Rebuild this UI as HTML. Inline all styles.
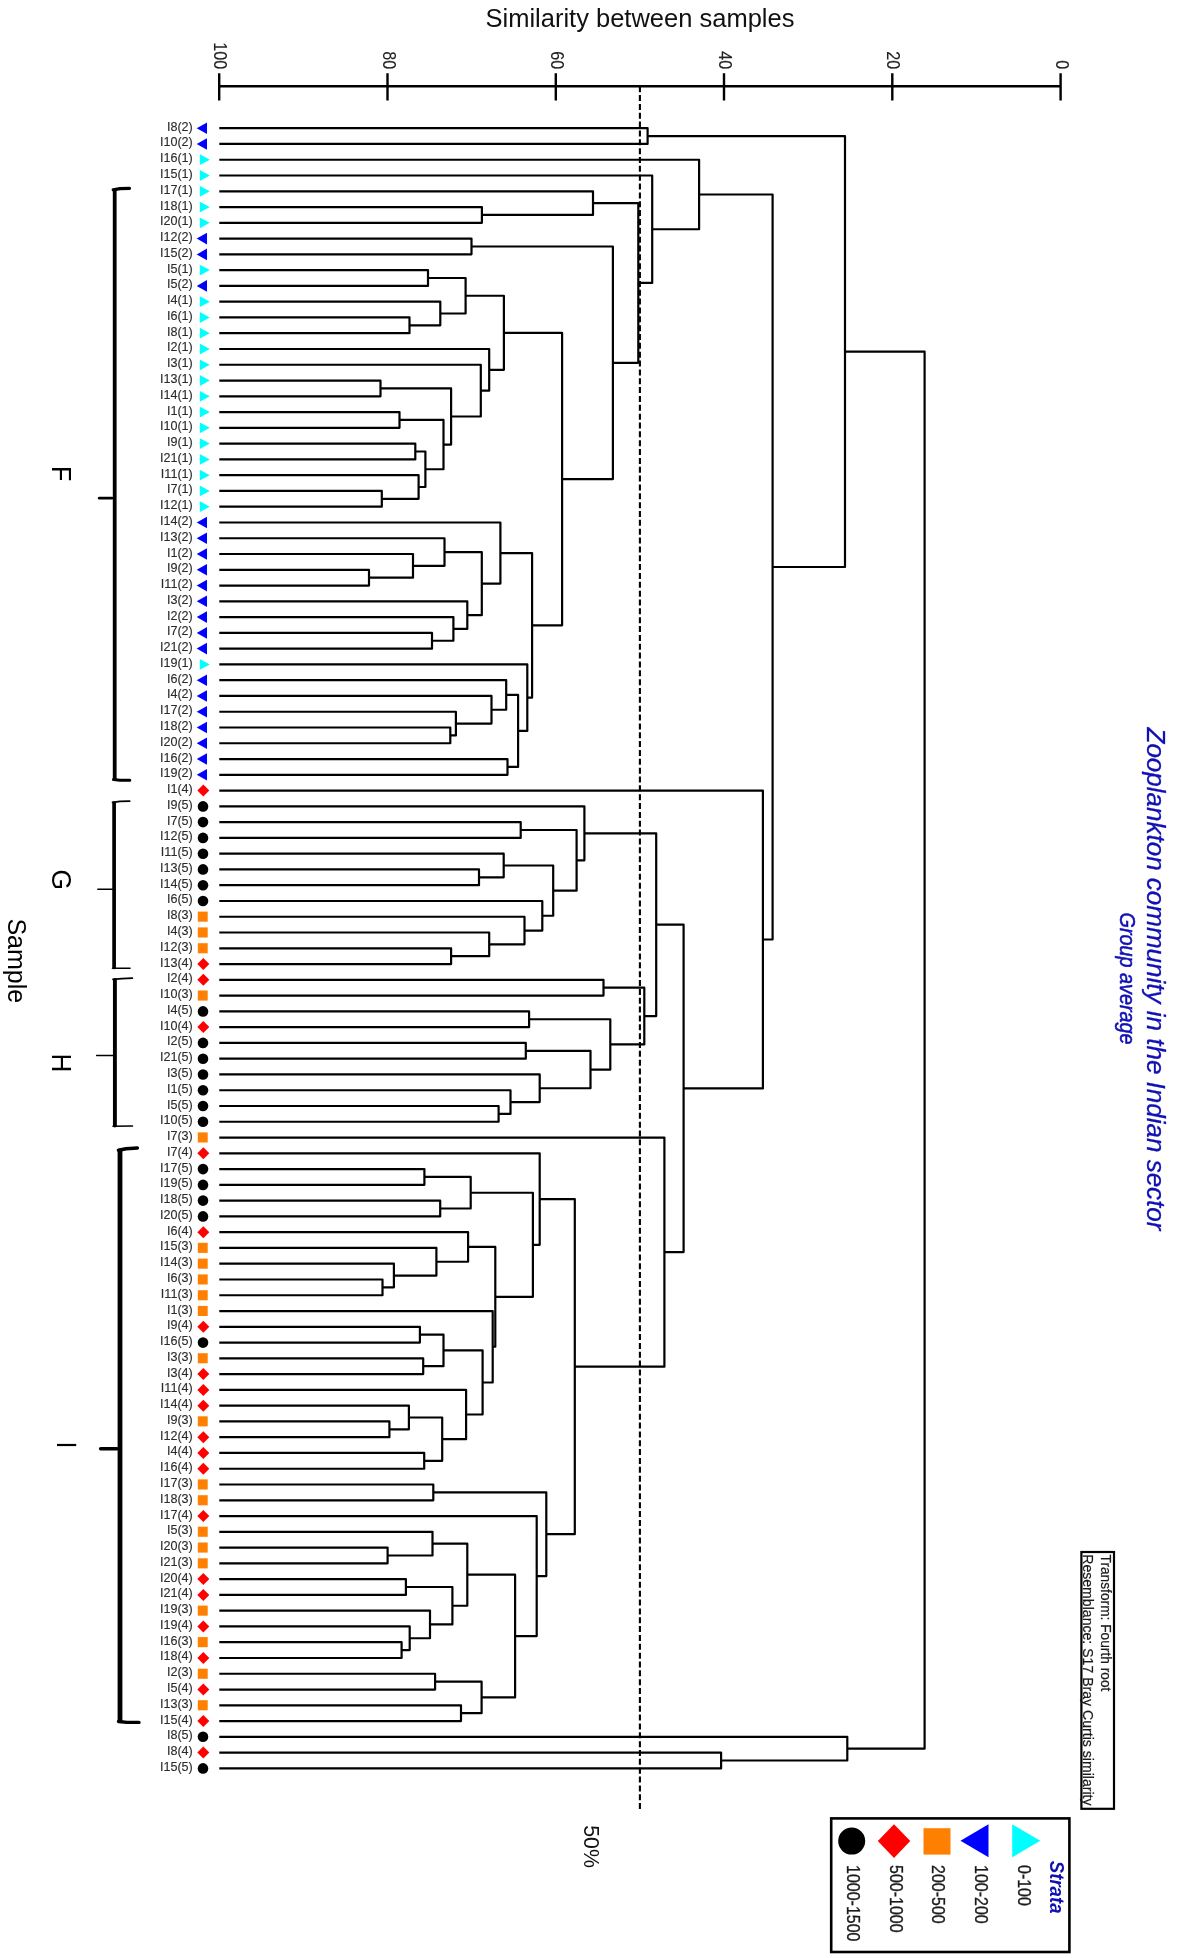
<!DOCTYPE html>
<html><head><meta charset="utf-8"><style>
html,body{margin:0;padding:0;background:#fff;}
body{width:1181px;height:1958px;overflow:hidden;position:relative;}
svg{position:absolute;left:0;top:0;display:block;will-change:transform;}
text{font-family:"Liberation Sans",sans-serif;}
</style></head><body>
<svg width="1181" height="1958" viewBox="0 0 1181 1958">

<text x="485.5" y="27.3" font-size="25.5" fill="#111">Similarity between samples</text>
<path d="M219.2 86.3H1060.6M219.2 73.3V100.4M387.5 73.3V100.4M555.8 73.3V100.4M724.0 73.3V100.4M892.3 73.3V100.4M1060.6 73.3V100.4" stroke="#000" stroke-width="2.4" fill="none"/>
<text transform="translate(214.3,69.2) rotate(90) scale(1,1.13)" font-size="16.2" fill="#222" stroke="#222" stroke-width="0.1" text-anchor="end">100</text>
<text transform="translate(382.6,69.2) rotate(90) scale(1,1.13)" font-size="16.2" fill="#222" stroke="#222" stroke-width="0.1" text-anchor="end">80</text>
<text transform="translate(550.9,69.2) rotate(90) scale(1,1.13)" font-size="16.2" fill="#222" stroke="#222" stroke-width="0.1" text-anchor="end">60</text>
<text transform="translate(719.1,69.2) rotate(90) scale(1,1.13)" font-size="16.2" fill="#222" stroke="#222" stroke-width="0.1" text-anchor="end">40</text>
<text transform="translate(887.4,69.2) rotate(90) scale(1,1.13)" font-size="16.2" fill="#222" stroke="#222" stroke-width="0.1" text-anchor="end">20</text>
<text transform="translate(1055.7,69.2) rotate(90) scale(1,1.13)" font-size="16.2" fill="#222" stroke="#222" stroke-width="0.1" text-anchor="end">0</text>
<path d="M639.9 86.2V1809.2" stroke="#000" stroke-width="2.1" stroke-dasharray="6 2.85" fill="none"/>
<path d="M219.3 128.20H647.6V143.97H219.3M219.3 207.06H481.9V222.83H219.3M219.3 191.28H593.0V214.94H481.9M219.3 238.60H471.5V254.37H219.3M219.3 270.14H428.0V285.91H219.3M219.3 317.45H409.5V333.22H219.3M219.3 301.68H440.3V325.34H409.5M428.0 278.02H465.6V313.51H440.3M219.3 380.54H380.5V396.31H219.3M219.3 412.08H399.5V427.85H219.3M219.3 443.62H415.3V459.39H219.3M219.3 490.93H381.8V506.70H219.3M219.3 475.16H418.6V498.82H381.8M415.3 451.51H425.4V486.99H418.6M399.5 419.96H443.5V469.25H425.4M380.5 388.42H451.1V444.61H443.5M219.3 364.76H480.8V416.51H451.1M219.3 348.99H489.2V390.64H480.8M465.6 295.77H503.9V369.82H489.2M219.3 569.79H369.0V585.56H219.3M219.3 554.02H413.0V577.67H369.0M219.3 538.25H444.5V565.85H413.0M219.3 632.87H432.0V648.64H219.3M219.3 617.10H453.4V640.76H432.0M219.3 601.33H467.3V628.93H453.4M444.5 552.05H481.8V615.13H467.3M219.3 522.48H500.4V583.59H481.8M219.3 727.50H450.3V743.27H219.3M219.3 711.73H455.9V735.38H450.3M219.3 695.96H491.5V723.56H455.9M219.3 680.18H506.2V709.76H491.5M219.3 759.04H507.5V774.81H219.3M506.2 694.97H518.1V766.93H507.5M219.3 664.41H527.3V730.95H518.1M500.4 553.03H532.1V697.68H527.3M503.9 332.79H562.1V625.36H532.1M471.5 246.48H612.9V479.07H562.1M593.0 203.11H638.3V362.78H612.9M219.3 175.51H652.2V282.95H638.3M219.3 159.74H699.1V229.23H652.2M219.3 822.12H520.7V837.89H219.3M219.3 869.44H479.0V885.21H219.3M219.3 853.67H503.7V877.32H479.0M219.3 948.29H451.1V964.06H219.3M219.3 932.52H489.2V956.18H451.1M219.3 916.75H524.5V944.35H489.2M219.3 900.98H542.3V930.55H524.5M503.7 865.49H553.2V915.76H542.3M520.7 830.01H576.6V890.63H553.2M219.3 806.35H584.4V860.32H576.6M219.3 979.83H603.5V995.61H219.3M219.3 1011.38H529.1V1027.15H219.3M219.3 1042.92H525.8V1058.69H219.3M219.3 1106.00H498.6V1121.77H219.3M219.3 1090.23H510.5V1113.89H498.6M219.3 1074.46H539.7V1102.06H510.5M525.8 1050.80H590.5V1088.26H539.7M529.1 1019.26H610.3V1069.53H590.5M603.5 987.72H644.3V1044.40H610.3M584.4 833.34H656.2V1016.06H644.3M219.3 1169.09H424.4V1184.86H219.3M219.3 1200.63H440.2V1216.40H219.3M424.4 1176.97H470.7V1208.51H440.2M219.3 1279.48H382.5V1295.25H219.3M219.3 1263.71H393.9V1287.37H382.5M219.3 1247.94H436.4V1275.54H393.9M219.3 1232.17H468.1V1261.74H436.4M219.3 1326.80H419.9V1342.57H219.3M219.3 1358.34H423.2V1374.11H219.3M419.9 1334.68H443.5V1366.22H423.2M219.3 1421.42H389.4V1437.19H219.3M219.3 1405.65H408.9V1429.31H389.4M219.3 1452.96H424.2V1468.74H219.3M408.9 1417.48H442.2V1460.85H424.2M219.3 1389.88H466.1V1439.16H442.2M443.5 1350.45H482.6V1414.52H466.1M219.3 1311.03H492.7V1382.49H482.6M468.1 1246.96H495.3V1346.76H492.7M470.7 1192.74H532.9V1296.86H495.3M219.3 1153.32H539.7V1244.80H532.9M219.3 1484.51H433.3V1500.28H219.3M219.3 1547.59H387.6V1563.36H219.3M219.3 1531.82H432.5V1555.48H387.6M219.3 1579.13H405.9V1594.90H219.3M219.3 1642.22H401.6V1657.99H219.3M219.3 1626.45H409.7V1650.10H401.6M219.3 1610.67H430.0V1638.27H409.7M405.9 1587.02H452.4V1624.47H430.0M432.5 1543.65H467.3V1605.75H452.4M219.3 1673.76H435.1V1689.53H219.3M219.3 1705.30H461.0V1721.07H219.3M435.1 1681.64H481.6V1713.19H461.0M467.3 1574.70H515.1V1697.41H481.6M219.3 1516.05H536.7V1636.06H515.1M433.3 1492.39H546.3V1576.05H536.7M539.7 1199.06H574.8V1534.22H546.3M219.3 1137.54H664.4V1366.64H574.8M656.2 924.70H683.6V1252.09H664.4M219.3 790.58H762.9V1088.39H683.6M699.1 194.49H772.6V939.49H762.9M647.6 136.09H845.0V566.99H772.6M219.3 1752.61H721.1V1768.38H219.3M219.3 1736.84H847.3V1760.50H721.1M845.0 351.54H924.6V1748.67H847.3" stroke="#000" stroke-width="2.2" fill="none" stroke-linejoin="round"/>
<text transform="translate(192.8,130.70) scale(1,1.05)" font-size="12.6" fill="#2a2a2a" stroke="#2a2a2a" stroke-width="0.12" text-anchor="end">I8(2)</text>
<path d="M207 122.4L196.7 128.2L207 134.0Z" fill="#0000ff"/>
<text transform="translate(192.8,146.47) scale(1,1.05)" font-size="12.6" fill="#2a2a2a" stroke="#2a2a2a" stroke-width="0.12" text-anchor="end">I10(2)</text>
<path d="M207 138.2L196.7 144.0L207 149.8Z" fill="#0000ff"/>
<text transform="translate(192.8,162.24) scale(1,1.05)" font-size="12.6" fill="#2a2a2a" stroke="#2a2a2a" stroke-width="0.12" text-anchor="end">I16(1)</text>
<path d="M199.8 154.3L209.8 159.7L199.8 165.1Z" fill="#00ffff"/>
<text transform="translate(192.8,178.01) scale(1,1.05)" font-size="12.6" fill="#2a2a2a" stroke="#2a2a2a" stroke-width="0.12" text-anchor="end">I15(1)</text>
<path d="M199.8 170.1L209.8 175.5L199.8 180.9Z" fill="#00ffff"/>
<text transform="translate(192.8,193.78) scale(1,1.05)" font-size="12.6" fill="#2a2a2a" stroke="#2a2a2a" stroke-width="0.12" text-anchor="end">I17(1)</text>
<path d="M199.8 185.9L209.8 191.3L199.8 196.7Z" fill="#00ffff"/>
<text transform="translate(192.8,209.56) scale(1,1.05)" font-size="12.6" fill="#2a2a2a" stroke="#2a2a2a" stroke-width="0.12" text-anchor="end">I18(1)</text>
<path d="M199.8 201.7L209.8 207.1L199.8 212.5Z" fill="#00ffff"/>
<text transform="translate(192.8,225.33) scale(1,1.05)" font-size="12.6" fill="#2a2a2a" stroke="#2a2a2a" stroke-width="0.12" text-anchor="end">I20(1)</text>
<path d="M199.8 217.4L209.8 222.8L199.8 228.2Z" fill="#00ffff"/>
<text transform="translate(192.8,241.10) scale(1,1.05)" font-size="12.6" fill="#2a2a2a" stroke="#2a2a2a" stroke-width="0.12" text-anchor="end">I12(2)</text>
<path d="M207 232.8L196.7 238.6L207 244.4Z" fill="#0000ff"/>
<text transform="translate(192.8,256.87) scale(1,1.05)" font-size="12.6" fill="#2a2a2a" stroke="#2a2a2a" stroke-width="0.12" text-anchor="end">I15(2)</text>
<path d="M207 248.6L196.7 254.4L207 260.2Z" fill="#0000ff"/>
<text transform="translate(192.8,272.64) scale(1,1.05)" font-size="12.6" fill="#2a2a2a" stroke="#2a2a2a" stroke-width="0.12" text-anchor="end">I5(1)</text>
<path d="M199.8 264.7L209.8 270.1L199.8 275.5Z" fill="#00ffff"/>
<text transform="translate(192.8,288.41) scale(1,1.05)" font-size="12.6" fill="#2a2a2a" stroke="#2a2a2a" stroke-width="0.12" text-anchor="end">I5(2)</text>
<path d="M207 280.1L196.7 285.9L207 291.7Z" fill="#0000ff"/>
<text transform="translate(192.8,304.18) scale(1,1.05)" font-size="12.6" fill="#2a2a2a" stroke="#2a2a2a" stroke-width="0.12" text-anchor="end">I4(1)</text>
<path d="M199.8 296.3L209.8 301.7L199.8 307.1Z" fill="#00ffff"/>
<text transform="translate(192.8,319.95) scale(1,1.05)" font-size="12.6" fill="#2a2a2a" stroke="#2a2a2a" stroke-width="0.12" text-anchor="end">I6(1)</text>
<path d="M199.8 312.1L209.8 317.5L199.8 322.9Z" fill="#00ffff"/>
<text transform="translate(192.8,335.72) scale(1,1.05)" font-size="12.6" fill="#2a2a2a" stroke="#2a2a2a" stroke-width="0.12" text-anchor="end">I8(1)</text>
<path d="M199.8 327.8L209.8 333.2L199.8 338.6Z" fill="#00ffff"/>
<text transform="translate(192.8,351.49) scale(1,1.05)" font-size="12.6" fill="#2a2a2a" stroke="#2a2a2a" stroke-width="0.12" text-anchor="end">I2(1)</text>
<path d="M199.8 343.6L209.8 349.0L199.8 354.4Z" fill="#00ffff"/>
<text transform="translate(192.8,367.26) scale(1,1.05)" font-size="12.6" fill="#2a2a2a" stroke="#2a2a2a" stroke-width="0.12" text-anchor="end">I3(1)</text>
<path d="M199.8 359.4L209.8 364.8L199.8 370.2Z" fill="#00ffff"/>
<text transform="translate(192.8,383.04) scale(1,1.05)" font-size="12.6" fill="#2a2a2a" stroke="#2a2a2a" stroke-width="0.12" text-anchor="end">I13(1)</text>
<path d="M199.8 375.1L209.8 380.5L199.8 385.9Z" fill="#00ffff"/>
<text transform="translate(192.8,398.81) scale(1,1.05)" font-size="12.6" fill="#2a2a2a" stroke="#2a2a2a" stroke-width="0.12" text-anchor="end">I14(1)</text>
<path d="M199.8 390.9L209.8 396.3L199.8 401.7Z" fill="#00ffff"/>
<text transform="translate(192.8,414.58) scale(1,1.05)" font-size="12.6" fill="#2a2a2a" stroke="#2a2a2a" stroke-width="0.12" text-anchor="end">I1(1)</text>
<path d="M199.8 406.7L209.8 412.1L199.8 417.5Z" fill="#00ffff"/>
<text transform="translate(192.8,430.35) scale(1,1.05)" font-size="12.6" fill="#2a2a2a" stroke="#2a2a2a" stroke-width="0.12" text-anchor="end">I10(1)</text>
<path d="M199.8 422.4L209.8 427.8L199.8 433.2Z" fill="#00ffff"/>
<text transform="translate(192.8,446.12) scale(1,1.05)" font-size="12.6" fill="#2a2a2a" stroke="#2a2a2a" stroke-width="0.12" text-anchor="end">I9(1)</text>
<path d="M199.8 438.2L209.8 443.6L199.8 449.0Z" fill="#00ffff"/>
<text transform="translate(192.8,461.89) scale(1,1.05)" font-size="12.6" fill="#2a2a2a" stroke="#2a2a2a" stroke-width="0.12" text-anchor="end">I21(1)</text>
<path d="M199.8 454.0L209.8 459.4L199.8 464.8Z" fill="#00ffff"/>
<text transform="translate(192.8,477.66) scale(1,1.05)" font-size="12.6" fill="#2a2a2a" stroke="#2a2a2a" stroke-width="0.12" text-anchor="end">I11(1)</text>
<path d="M199.8 469.8L209.8 475.2L199.8 480.6Z" fill="#00ffff"/>
<text transform="translate(192.8,493.43) scale(1,1.05)" font-size="12.6" fill="#2a2a2a" stroke="#2a2a2a" stroke-width="0.12" text-anchor="end">I7(1)</text>
<path d="M199.8 485.5L209.8 490.9L199.8 496.3Z" fill="#00ffff"/>
<text transform="translate(192.8,509.20) scale(1,1.05)" font-size="12.6" fill="#2a2a2a" stroke="#2a2a2a" stroke-width="0.12" text-anchor="end">I12(1)</text>
<path d="M199.8 501.3L209.8 506.7L199.8 512.1Z" fill="#00ffff"/>
<text transform="translate(192.8,524.98) scale(1,1.05)" font-size="12.6" fill="#2a2a2a" stroke="#2a2a2a" stroke-width="0.12" text-anchor="end">I14(2)</text>
<path d="M207 516.7L196.7 522.5L207 528.3Z" fill="#0000ff"/>
<text transform="translate(192.8,540.75) scale(1,1.05)" font-size="12.6" fill="#2a2a2a" stroke="#2a2a2a" stroke-width="0.12" text-anchor="end">I13(2)</text>
<path d="M207 532.4L196.7 538.2L207 544.0Z" fill="#0000ff"/>
<text transform="translate(192.8,556.52) scale(1,1.05)" font-size="12.6" fill="#2a2a2a" stroke="#2a2a2a" stroke-width="0.12" text-anchor="end">I1(2)</text>
<path d="M207 548.2L196.7 554.0L207 559.8Z" fill="#0000ff"/>
<text transform="translate(192.8,572.29) scale(1,1.05)" font-size="12.6" fill="#2a2a2a" stroke="#2a2a2a" stroke-width="0.12" text-anchor="end">I9(2)</text>
<path d="M207 564.0L196.7 569.8L207 575.6Z" fill="#0000ff"/>
<text transform="translate(192.8,588.06) scale(1,1.05)" font-size="12.6" fill="#2a2a2a" stroke="#2a2a2a" stroke-width="0.12" text-anchor="end">I11(2)</text>
<path d="M207 579.8L196.7 585.6L207 591.4Z" fill="#0000ff"/>
<text transform="translate(192.8,603.83) scale(1,1.05)" font-size="12.6" fill="#2a2a2a" stroke="#2a2a2a" stroke-width="0.12" text-anchor="end">I3(2)</text>
<path d="M207 595.5L196.7 601.3L207 607.1Z" fill="#0000ff"/>
<text transform="translate(192.8,619.60) scale(1,1.05)" font-size="12.6" fill="#2a2a2a" stroke="#2a2a2a" stroke-width="0.12" text-anchor="end">I2(2)</text>
<path d="M207 611.3L196.7 617.1L207 622.9Z" fill="#0000ff"/>
<text transform="translate(192.8,635.37) scale(1,1.05)" font-size="12.6" fill="#2a2a2a" stroke="#2a2a2a" stroke-width="0.12" text-anchor="end">I7(2)</text>
<path d="M207 627.1L196.7 632.9L207 638.7Z" fill="#0000ff"/>
<text transform="translate(192.8,651.14) scale(1,1.05)" font-size="12.6" fill="#2a2a2a" stroke="#2a2a2a" stroke-width="0.12" text-anchor="end">I21(2)</text>
<path d="M207 642.8L196.7 648.6L207 654.4Z" fill="#0000ff"/>
<text transform="translate(192.8,666.91) scale(1,1.05)" font-size="12.6" fill="#2a2a2a" stroke="#2a2a2a" stroke-width="0.12" text-anchor="end">I19(1)</text>
<path d="M199.8 659.0L209.8 664.4L199.8 669.8Z" fill="#00ffff"/>
<text transform="translate(192.8,682.68) scale(1,1.05)" font-size="12.6" fill="#2a2a2a" stroke="#2a2a2a" stroke-width="0.12" text-anchor="end">I6(2)</text>
<path d="M207 674.4L196.7 680.2L207 686.0Z" fill="#0000ff"/>
<text transform="translate(192.8,698.46) scale(1,1.05)" font-size="12.6" fill="#2a2a2a" stroke="#2a2a2a" stroke-width="0.12" text-anchor="end">I4(2)</text>
<path d="M207 690.2L196.7 696.0L207 701.8Z" fill="#0000ff"/>
<text transform="translate(192.8,714.23) scale(1,1.05)" font-size="12.6" fill="#2a2a2a" stroke="#2a2a2a" stroke-width="0.12" text-anchor="end">I17(2)</text>
<path d="M207 705.9L196.7 711.7L207 717.5Z" fill="#0000ff"/>
<text transform="translate(192.8,730.00) scale(1,1.05)" font-size="12.6" fill="#2a2a2a" stroke="#2a2a2a" stroke-width="0.12" text-anchor="end">I18(2)</text>
<path d="M207 721.7L196.7 727.5L207 733.3Z" fill="#0000ff"/>
<text transform="translate(192.8,745.77) scale(1,1.05)" font-size="12.6" fill="#2a2a2a" stroke="#2a2a2a" stroke-width="0.12" text-anchor="end">I20(2)</text>
<path d="M207 737.5L196.7 743.3L207 749.1Z" fill="#0000ff"/>
<text transform="translate(192.8,761.54) scale(1,1.05)" font-size="12.6" fill="#2a2a2a" stroke="#2a2a2a" stroke-width="0.12" text-anchor="end">I16(2)</text>
<path d="M207 753.2L196.7 759.0L207 764.8Z" fill="#0000ff"/>
<text transform="translate(192.8,777.31) scale(1,1.05)" font-size="12.6" fill="#2a2a2a" stroke="#2a2a2a" stroke-width="0.12" text-anchor="end">I19(2)</text>
<path d="M207 769.0L196.7 774.8L207 780.6Z" fill="#0000ff"/>
<text transform="translate(192.8,793.08) scale(1,1.05)" font-size="12.6" fill="#2a2a2a" stroke="#2a2a2a" stroke-width="0.12" text-anchor="end">I1(4)</text>
<path d="M203.3 784.6L209.3 790.6L203.3 796.6L197.3 790.6Z" fill="#ff0000"/>
<text transform="translate(192.8,808.85) scale(1,1.05)" font-size="12.6" fill="#2a2a2a" stroke="#2a2a2a" stroke-width="0.12" text-anchor="end">I9(5)</text>
<circle cx="203" cy="806.4" r="5.3" fill="#000"/>
<text transform="translate(192.8,824.62) scale(1,1.05)" font-size="12.6" fill="#2a2a2a" stroke="#2a2a2a" stroke-width="0.12" text-anchor="end">I7(5)</text>
<circle cx="203" cy="822.1" r="5.3" fill="#000"/>
<text transform="translate(192.8,840.39) scale(1,1.05)" font-size="12.6" fill="#2a2a2a" stroke="#2a2a2a" stroke-width="0.12" text-anchor="end">I12(5)</text>
<circle cx="203" cy="837.9" r="5.3" fill="#000"/>
<text transform="translate(192.8,856.17) scale(1,1.05)" font-size="12.6" fill="#2a2a2a" stroke="#2a2a2a" stroke-width="0.12" text-anchor="end">I11(5)</text>
<circle cx="203" cy="853.7" r="5.3" fill="#000"/>
<text transform="translate(192.8,871.94) scale(1,1.05)" font-size="12.6" fill="#2a2a2a" stroke="#2a2a2a" stroke-width="0.12" text-anchor="end">I13(5)</text>
<circle cx="203" cy="869.4" r="5.3" fill="#000"/>
<text transform="translate(192.8,887.71) scale(1,1.05)" font-size="12.6" fill="#2a2a2a" stroke="#2a2a2a" stroke-width="0.12" text-anchor="end">I14(5)</text>
<circle cx="203" cy="885.2" r="5.3" fill="#000"/>
<text transform="translate(192.8,903.48) scale(1,1.05)" font-size="12.6" fill="#2a2a2a" stroke="#2a2a2a" stroke-width="0.12" text-anchor="end">I6(5)</text>
<circle cx="203" cy="901.0" r="5.3" fill="#000"/>
<text transform="translate(192.8,919.25) scale(1,1.05)" font-size="12.6" fill="#2a2a2a" stroke="#2a2a2a" stroke-width="0.12" text-anchor="end">I8(3)</text>
<rect x="197.8" y="911.6" width="9.9" height="10.1" fill="#ff8000"/>
<text transform="translate(192.8,935.02) scale(1,1.05)" font-size="12.6" fill="#2a2a2a" stroke="#2a2a2a" stroke-width="0.12" text-anchor="end">I4(3)</text>
<rect x="197.8" y="927.4" width="9.9" height="10.1" fill="#ff8000"/>
<text transform="translate(192.8,950.79) scale(1,1.05)" font-size="12.6" fill="#2a2a2a" stroke="#2a2a2a" stroke-width="0.12" text-anchor="end">I12(3)</text>
<rect x="197.8" y="943.2" width="9.9" height="10.1" fill="#ff8000"/>
<text transform="translate(192.8,966.56) scale(1,1.05)" font-size="12.6" fill="#2a2a2a" stroke="#2a2a2a" stroke-width="0.12" text-anchor="end">I13(4)</text>
<path d="M203.3 958.1L209.3 964.1L203.3 970.1L197.3 964.1Z" fill="#ff0000"/>
<text transform="translate(192.8,982.33) scale(1,1.05)" font-size="12.6" fill="#2a2a2a" stroke="#2a2a2a" stroke-width="0.12" text-anchor="end">I2(4)</text>
<path d="M203.3 973.8L209.3 979.8L203.3 985.8L197.3 979.8Z" fill="#ff0000"/>
<text transform="translate(192.8,998.11) scale(1,1.05)" font-size="12.6" fill="#2a2a2a" stroke="#2a2a2a" stroke-width="0.12" text-anchor="end">I10(3)</text>
<rect x="197.8" y="990.5" width="9.9" height="10.1" fill="#ff8000"/>
<text transform="translate(192.8,1013.88) scale(1,1.05)" font-size="12.6" fill="#2a2a2a" stroke="#2a2a2a" stroke-width="0.12" text-anchor="end">I4(5)</text>
<circle cx="203" cy="1011.4" r="5.3" fill="#000"/>
<text transform="translate(192.8,1029.65) scale(1,1.05)" font-size="12.6" fill="#2a2a2a" stroke="#2a2a2a" stroke-width="0.12" text-anchor="end">I10(4)</text>
<path d="M203.3 1021.1L209.3 1027.1L203.3 1033.1L197.3 1027.1Z" fill="#ff0000"/>
<text transform="translate(192.8,1045.42) scale(1,1.05)" font-size="12.6" fill="#2a2a2a" stroke="#2a2a2a" stroke-width="0.12" text-anchor="end">I2(5)</text>
<circle cx="203" cy="1042.9" r="5.3" fill="#000"/>
<text transform="translate(192.8,1061.19) scale(1,1.05)" font-size="12.6" fill="#2a2a2a" stroke="#2a2a2a" stroke-width="0.12" text-anchor="end">I21(5)</text>
<circle cx="203" cy="1058.7" r="5.3" fill="#000"/>
<text transform="translate(192.8,1076.96) scale(1,1.05)" font-size="12.6" fill="#2a2a2a" stroke="#2a2a2a" stroke-width="0.12" text-anchor="end">I3(5)</text>
<circle cx="203" cy="1074.5" r="5.3" fill="#000"/>
<text transform="translate(192.8,1092.73) scale(1,1.05)" font-size="12.6" fill="#2a2a2a" stroke="#2a2a2a" stroke-width="0.12" text-anchor="end">I1(5)</text>
<circle cx="203" cy="1090.2" r="5.3" fill="#000"/>
<text transform="translate(192.8,1108.50) scale(1,1.05)" font-size="12.6" fill="#2a2a2a" stroke="#2a2a2a" stroke-width="0.12" text-anchor="end">I5(5)</text>
<circle cx="203" cy="1106.0" r="5.3" fill="#000"/>
<text transform="translate(192.8,1124.27) scale(1,1.05)" font-size="12.6" fill="#2a2a2a" stroke="#2a2a2a" stroke-width="0.12" text-anchor="end">I10(5)</text>
<circle cx="203" cy="1121.8" r="5.3" fill="#000"/>
<text transform="translate(192.8,1140.04) scale(1,1.05)" font-size="12.6" fill="#2a2a2a" stroke="#2a2a2a" stroke-width="0.12" text-anchor="end">I7(3)</text>
<rect x="197.8" y="1132.4" width="9.9" height="10.1" fill="#ff8000"/>
<text transform="translate(192.8,1155.82) scale(1,1.05)" font-size="12.6" fill="#2a2a2a" stroke="#2a2a2a" stroke-width="0.12" text-anchor="end">I7(4)</text>
<path d="M203.3 1147.3L209.3 1153.3L203.3 1159.3L197.3 1153.3Z" fill="#ff0000"/>
<text transform="translate(192.8,1171.59) scale(1,1.05)" font-size="12.6" fill="#2a2a2a" stroke="#2a2a2a" stroke-width="0.12" text-anchor="end">I17(5)</text>
<circle cx="203" cy="1169.1" r="5.3" fill="#000"/>
<text transform="translate(192.8,1187.36) scale(1,1.05)" font-size="12.6" fill="#2a2a2a" stroke="#2a2a2a" stroke-width="0.12" text-anchor="end">I19(5)</text>
<circle cx="203" cy="1184.9" r="5.3" fill="#000"/>
<text transform="translate(192.8,1203.13) scale(1,1.05)" font-size="12.6" fill="#2a2a2a" stroke="#2a2a2a" stroke-width="0.12" text-anchor="end">I18(5)</text>
<circle cx="203" cy="1200.6" r="5.3" fill="#000"/>
<text transform="translate(192.8,1218.90) scale(1,1.05)" font-size="12.6" fill="#2a2a2a" stroke="#2a2a2a" stroke-width="0.12" text-anchor="end">I20(5)</text>
<circle cx="203" cy="1216.4" r="5.3" fill="#000"/>
<text transform="translate(192.8,1234.67) scale(1,1.05)" font-size="12.6" fill="#2a2a2a" stroke="#2a2a2a" stroke-width="0.12" text-anchor="end">I6(4)</text>
<path d="M203.3 1226.2L209.3 1232.2L203.3 1238.2L197.3 1232.2Z" fill="#ff0000"/>
<text transform="translate(192.8,1250.44) scale(1,1.05)" font-size="12.6" fill="#2a2a2a" stroke="#2a2a2a" stroke-width="0.12" text-anchor="end">I15(3)</text>
<rect x="197.8" y="1242.8" width="9.9" height="10.1" fill="#ff8000"/>
<text transform="translate(192.8,1266.21) scale(1,1.05)" font-size="12.6" fill="#2a2a2a" stroke="#2a2a2a" stroke-width="0.12" text-anchor="end">I14(3)</text>
<rect x="197.8" y="1258.6" width="9.9" height="10.1" fill="#ff8000"/>
<text transform="translate(192.8,1281.98) scale(1,1.05)" font-size="12.6" fill="#2a2a2a" stroke="#2a2a2a" stroke-width="0.12" text-anchor="end">I6(3)</text>
<rect x="197.8" y="1274.4" width="9.9" height="10.1" fill="#ff8000"/>
<text transform="translate(192.8,1297.75) scale(1,1.05)" font-size="12.6" fill="#2a2a2a" stroke="#2a2a2a" stroke-width="0.12" text-anchor="end">I11(3)</text>
<rect x="197.8" y="1290.2" width="9.9" height="10.1" fill="#ff8000"/>
<text transform="translate(192.8,1313.53) scale(1,1.05)" font-size="12.6" fill="#2a2a2a" stroke="#2a2a2a" stroke-width="0.12" text-anchor="end">I1(3)</text>
<rect x="197.8" y="1305.9" width="9.9" height="10.1" fill="#ff8000"/>
<text transform="translate(192.8,1329.30) scale(1,1.05)" font-size="12.6" fill="#2a2a2a" stroke="#2a2a2a" stroke-width="0.12" text-anchor="end">I9(4)</text>
<path d="M203.3 1320.8L209.3 1326.8L203.3 1332.8L197.3 1326.8Z" fill="#ff0000"/>
<text transform="translate(192.8,1345.07) scale(1,1.05)" font-size="12.6" fill="#2a2a2a" stroke="#2a2a2a" stroke-width="0.12" text-anchor="end">I16(5)</text>
<circle cx="203" cy="1342.6" r="5.3" fill="#000"/>
<text transform="translate(192.8,1360.84) scale(1,1.05)" font-size="12.6" fill="#2a2a2a" stroke="#2a2a2a" stroke-width="0.12" text-anchor="end">I3(3)</text>
<rect x="197.8" y="1353.2" width="9.9" height="10.1" fill="#ff8000"/>
<text transform="translate(192.8,1376.61) scale(1,1.05)" font-size="12.6" fill="#2a2a2a" stroke="#2a2a2a" stroke-width="0.12" text-anchor="end">I3(4)</text>
<path d="M203.3 1368.1L209.3 1374.1L203.3 1380.1L197.3 1374.1Z" fill="#ff0000"/>
<text transform="translate(192.8,1392.38) scale(1,1.05)" font-size="12.6" fill="#2a2a2a" stroke="#2a2a2a" stroke-width="0.12" text-anchor="end">I11(4)</text>
<path d="M203.3 1383.9L209.3 1389.9L203.3 1395.9L197.3 1389.9Z" fill="#ff0000"/>
<text transform="translate(192.8,1408.15) scale(1,1.05)" font-size="12.6" fill="#2a2a2a" stroke="#2a2a2a" stroke-width="0.12" text-anchor="end">I14(4)</text>
<path d="M203.3 1399.7L209.3 1405.7L203.3 1411.7L197.3 1405.7Z" fill="#ff0000"/>
<text transform="translate(192.8,1423.92) scale(1,1.05)" font-size="12.6" fill="#2a2a2a" stroke="#2a2a2a" stroke-width="0.12" text-anchor="end">I9(3)</text>
<rect x="197.8" y="1416.3" width="9.9" height="10.1" fill="#ff8000"/>
<text transform="translate(192.8,1439.69) scale(1,1.05)" font-size="12.6" fill="#2a2a2a" stroke="#2a2a2a" stroke-width="0.12" text-anchor="end">I12(4)</text>
<path d="M203.3 1431.2L209.3 1437.2L203.3 1443.2L197.3 1437.2Z" fill="#ff0000"/>
<text transform="translate(192.8,1455.46) scale(1,1.05)" font-size="12.6" fill="#2a2a2a" stroke="#2a2a2a" stroke-width="0.12" text-anchor="end">I4(4)</text>
<path d="M203.3 1447.0L209.3 1453.0L203.3 1459.0L197.3 1453.0Z" fill="#ff0000"/>
<text transform="translate(192.8,1471.24) scale(1,1.05)" font-size="12.6" fill="#2a2a2a" stroke="#2a2a2a" stroke-width="0.12" text-anchor="end">I16(4)</text>
<path d="M203.3 1462.7L209.3 1468.7L203.3 1474.7L197.3 1468.7Z" fill="#ff0000"/>
<text transform="translate(192.8,1487.01) scale(1,1.05)" font-size="12.6" fill="#2a2a2a" stroke="#2a2a2a" stroke-width="0.12" text-anchor="end">I17(3)</text>
<rect x="197.8" y="1479.4" width="9.9" height="10.1" fill="#ff8000"/>
<text transform="translate(192.8,1502.78) scale(1,1.05)" font-size="12.6" fill="#2a2a2a" stroke="#2a2a2a" stroke-width="0.12" text-anchor="end">I18(3)</text>
<rect x="197.8" y="1495.2" width="9.9" height="10.1" fill="#ff8000"/>
<text transform="translate(192.8,1518.55) scale(1,1.05)" font-size="12.6" fill="#2a2a2a" stroke="#2a2a2a" stroke-width="0.12" text-anchor="end">I17(4)</text>
<path d="M203.3 1510.0L209.3 1516.0L203.3 1522.0L197.3 1516.0Z" fill="#ff0000"/>
<text transform="translate(192.8,1534.32) scale(1,1.05)" font-size="12.6" fill="#2a2a2a" stroke="#2a2a2a" stroke-width="0.12" text-anchor="end">I5(3)</text>
<rect x="197.8" y="1526.7" width="9.9" height="10.1" fill="#ff8000"/>
<text transform="translate(192.8,1550.09) scale(1,1.05)" font-size="12.6" fill="#2a2a2a" stroke="#2a2a2a" stroke-width="0.12" text-anchor="end">I20(3)</text>
<rect x="197.8" y="1542.5" width="9.9" height="10.1" fill="#ff8000"/>
<text transform="translate(192.8,1565.86) scale(1,1.05)" font-size="12.6" fill="#2a2a2a" stroke="#2a2a2a" stroke-width="0.12" text-anchor="end">I21(3)</text>
<rect x="197.8" y="1558.3" width="9.9" height="10.1" fill="#ff8000"/>
<text transform="translate(192.8,1581.63) scale(1,1.05)" font-size="12.6" fill="#2a2a2a" stroke="#2a2a2a" stroke-width="0.12" text-anchor="end">I20(4)</text>
<path d="M203.3 1573.1L209.3 1579.1L203.3 1585.1L197.3 1579.1Z" fill="#ff0000"/>
<text transform="translate(192.8,1597.40) scale(1,1.05)" font-size="12.6" fill="#2a2a2a" stroke="#2a2a2a" stroke-width="0.12" text-anchor="end">I21(4)</text>
<path d="M203.3 1588.9L209.3 1594.9L203.3 1600.9L197.3 1594.9Z" fill="#ff0000"/>
<text transform="translate(192.8,1613.17) scale(1,1.05)" font-size="12.6" fill="#2a2a2a" stroke="#2a2a2a" stroke-width="0.12" text-anchor="end">I19(3)</text>
<rect x="197.8" y="1605.6" width="9.9" height="10.1" fill="#ff8000"/>
<text transform="translate(192.8,1628.95) scale(1,1.05)" font-size="12.6" fill="#2a2a2a" stroke="#2a2a2a" stroke-width="0.12" text-anchor="end">I19(4)</text>
<path d="M203.3 1620.4L209.3 1626.4L203.3 1632.4L197.3 1626.4Z" fill="#ff0000"/>
<text transform="translate(192.8,1644.72) scale(1,1.05)" font-size="12.6" fill="#2a2a2a" stroke="#2a2a2a" stroke-width="0.12" text-anchor="end">I16(3)</text>
<rect x="197.8" y="1637.1" width="9.9" height="10.1" fill="#ff8000"/>
<text transform="translate(192.8,1660.49) scale(1,1.05)" font-size="12.6" fill="#2a2a2a" stroke="#2a2a2a" stroke-width="0.12" text-anchor="end">I18(4)</text>
<path d="M203.3 1652.0L209.3 1658.0L203.3 1664.0L197.3 1658.0Z" fill="#ff0000"/>
<text transform="translate(192.8,1676.26) scale(1,1.05)" font-size="12.6" fill="#2a2a2a" stroke="#2a2a2a" stroke-width="0.12" text-anchor="end">I2(3)</text>
<rect x="197.8" y="1668.7" width="9.9" height="10.1" fill="#ff8000"/>
<text transform="translate(192.8,1692.03) scale(1,1.05)" font-size="12.6" fill="#2a2a2a" stroke="#2a2a2a" stroke-width="0.12" text-anchor="end">I5(4)</text>
<path d="M203.3 1683.5L209.3 1689.5L203.3 1695.5L197.3 1689.5Z" fill="#ff0000"/>
<text transform="translate(192.8,1707.80) scale(1,1.05)" font-size="12.6" fill="#2a2a2a" stroke="#2a2a2a" stroke-width="0.12" text-anchor="end">I13(3)</text>
<rect x="197.8" y="1700.2" width="9.9" height="10.1" fill="#ff8000"/>
<text transform="translate(192.8,1723.57) scale(1,1.05)" font-size="12.6" fill="#2a2a2a" stroke="#2a2a2a" stroke-width="0.12" text-anchor="end">I15(4)</text>
<path d="M203.3 1715.1L209.3 1721.1L203.3 1727.1L197.3 1721.1Z" fill="#ff0000"/>
<text transform="translate(192.8,1739.34) scale(1,1.05)" font-size="12.6" fill="#2a2a2a" stroke="#2a2a2a" stroke-width="0.12" text-anchor="end">I8(5)</text>
<circle cx="203" cy="1736.8" r="5.3" fill="#000"/>
<text transform="translate(192.8,1755.11) scale(1,1.05)" font-size="12.6" fill="#2a2a2a" stroke="#2a2a2a" stroke-width="0.12" text-anchor="end">I8(4)</text>
<path d="M203.3 1746.6L209.3 1752.6L203.3 1758.6L197.3 1752.6Z" fill="#ff0000"/>
<text transform="translate(192.8,1770.88) scale(1,1.05)" font-size="12.6" fill="#2a2a2a" stroke="#2a2a2a" stroke-width="0.12" text-anchor="end">I15(5)</text>
<circle cx="203" cy="1768.4" r="5.3" fill="#000"/>
<g stroke="#000" fill="none" stroke-linecap="round" stroke-linejoin="round">
<path d="M114.7 191V778.5" stroke-width="3.8"/>
<path d="M113.2 189.8L120 188.6L129.5 188.4" stroke-width="3.2"/>
<path d="M113.5 779.6L120 780.2L129.8 780.2" stroke-width="3"/>
<path d="M99.3 498.2L112 498.2" stroke-width="2.8"/>
<path d="M114.1 803V967.5" stroke-width="3.7"/>
<path d="M112.5 802.3L120 801.4L129.7 801.2" stroke-width="1.7"/>
<path d="M112.5 968.2L130 968.2" stroke-width="1.6"/>
<path d="M97.8 889.2L113 889.2" stroke-width="1.5"/>
<path d="M114.9 980V1125.5" stroke-width="3.9"/>
<path d="M113 979.4L122 978.6L132.3 978.2" stroke-width="1.8"/>
<path d="M113 1126.2L132.5 1126" stroke-width="1.6"/>
<path d="M96.6 1055.6L113 1055.6" stroke-width="1.5"/>
<path d="M120 1151V1720.5" stroke-width="4.8"/>
<path d="M118.5 1150.2L126 1148.8L137.3 1148" stroke-width="3.6"/>
<path d="M118.5 1721.5L127 1722.4L139 1722.4" stroke-width="3.4"/>
<path d="M100.6 1448.8L117 1448.8" stroke-width="3.4"/>
</g>
<text transform="translate(52,466.0) rotate(90) scale(1,1.1)" font-size="25" fill="#000">F</text>
<text transform="translate(52.3,869.6) rotate(90) scale(1,1.05)" font-size="26.2" fill="#000">G</text>
<text transform="translate(52.3,1053.6) rotate(90) scale(1,1.05)" font-size="26.2" fill="#000">H</text>
<path d="M57 1445H76.2" stroke="#000" stroke-width="2.2"/>
<text transform="translate(8.2,918.4) rotate(90)" font-size="25" fill="#000">Sample</text>
<text transform="translate(1147,727.5) rotate(90)" font-size="26" font-style="italic" fill="#1010b4" stroke="#1010b4" stroke-width="0.3">Zooplankton community in the Indian sector</text>
<text transform="translate(1120,912.6) rotate(90) scale(1,1.1)" font-size="19.8" font-style="italic" fill="#1010b4" stroke="#1010b4" stroke-width="0.5">Group average</text>
<text transform="translate(584.2,1825.2) rotate(90)" font-size="21.3" fill="#111">50%</text>
<rect x="1081.4" y="1552" width="32.6" height="256.8" stroke="#000" stroke-width="2.2" fill="none"/>
<text transform="translate(1100.6,1554.5) rotate(90) scale(1,1.1)" font-size="13.75" fill="#1a1a1a" stroke="#1a1a1a" stroke-width="0.2">Transform: Fourth root</text>
<text transform="translate(1082.6,1554.2) rotate(90) scale(1,1.04)" font-size="14.1" fill="#1a1a1a" stroke="#1a1a1a" stroke-width="0.2">Resemblance: S17 Bray Curtis similarity</text>
<rect x="831.2" y="1818.4" width="238.2" height="133.6" stroke="#000" stroke-width="2.6" fill="none"/>
<text transform="translate(1050.3,1860.8) rotate(90) scale(1,1.12)" font-size="18.6" font-style="italic" font-weight="bold" fill="#1010b4">Strata</text>
<path d="M1012.2 1824.3L1040.3 1840.8L1012.2 1857.3Z" fill="#00ffff"/>
<path d="M988.5 1824.3L960.5 1840.8L988.5 1857.3Z" fill="#0000ff"/>
<rect x="923.5" y="1828.2" width="27" height="26.4" fill="#ff8000"/>
<path d="M894 1824.3L910.3 1841.1L894 1857.9L877.8 1841.1Z" fill="#ff0000"/>
<circle cx="851.7" cy="1841.1" r="13.5" fill="#000"/>
<text transform="translate(1017.7,1865) rotate(90) scale(1,1.13)" font-size="16" fill="#1a1a1a" stroke="#1a1a1a" stroke-width="0.3">0-100</text>
<text transform="translate(974.8,1865) rotate(90) scale(1,1.13)" font-size="16" fill="#1a1a1a" stroke="#1a1a1a" stroke-width="0.3">100-200</text>
<text transform="translate(932.3,1865) rotate(90) scale(1,1.13)" font-size="16" fill="#1a1a1a" stroke="#1a1a1a" stroke-width="0.3">200-500</text>
<text transform="translate(890,1865) rotate(90) scale(1,1.13)" font-size="16" fill="#1a1a1a" stroke="#1a1a1a" stroke-width="0.3">500-1000</text>
<text transform="translate(847,1865) rotate(90) scale(1,1.13)" font-size="16" fill="#1a1a1a" stroke="#1a1a1a" stroke-width="0.3">1000-1500</text>
</svg></body></html>
